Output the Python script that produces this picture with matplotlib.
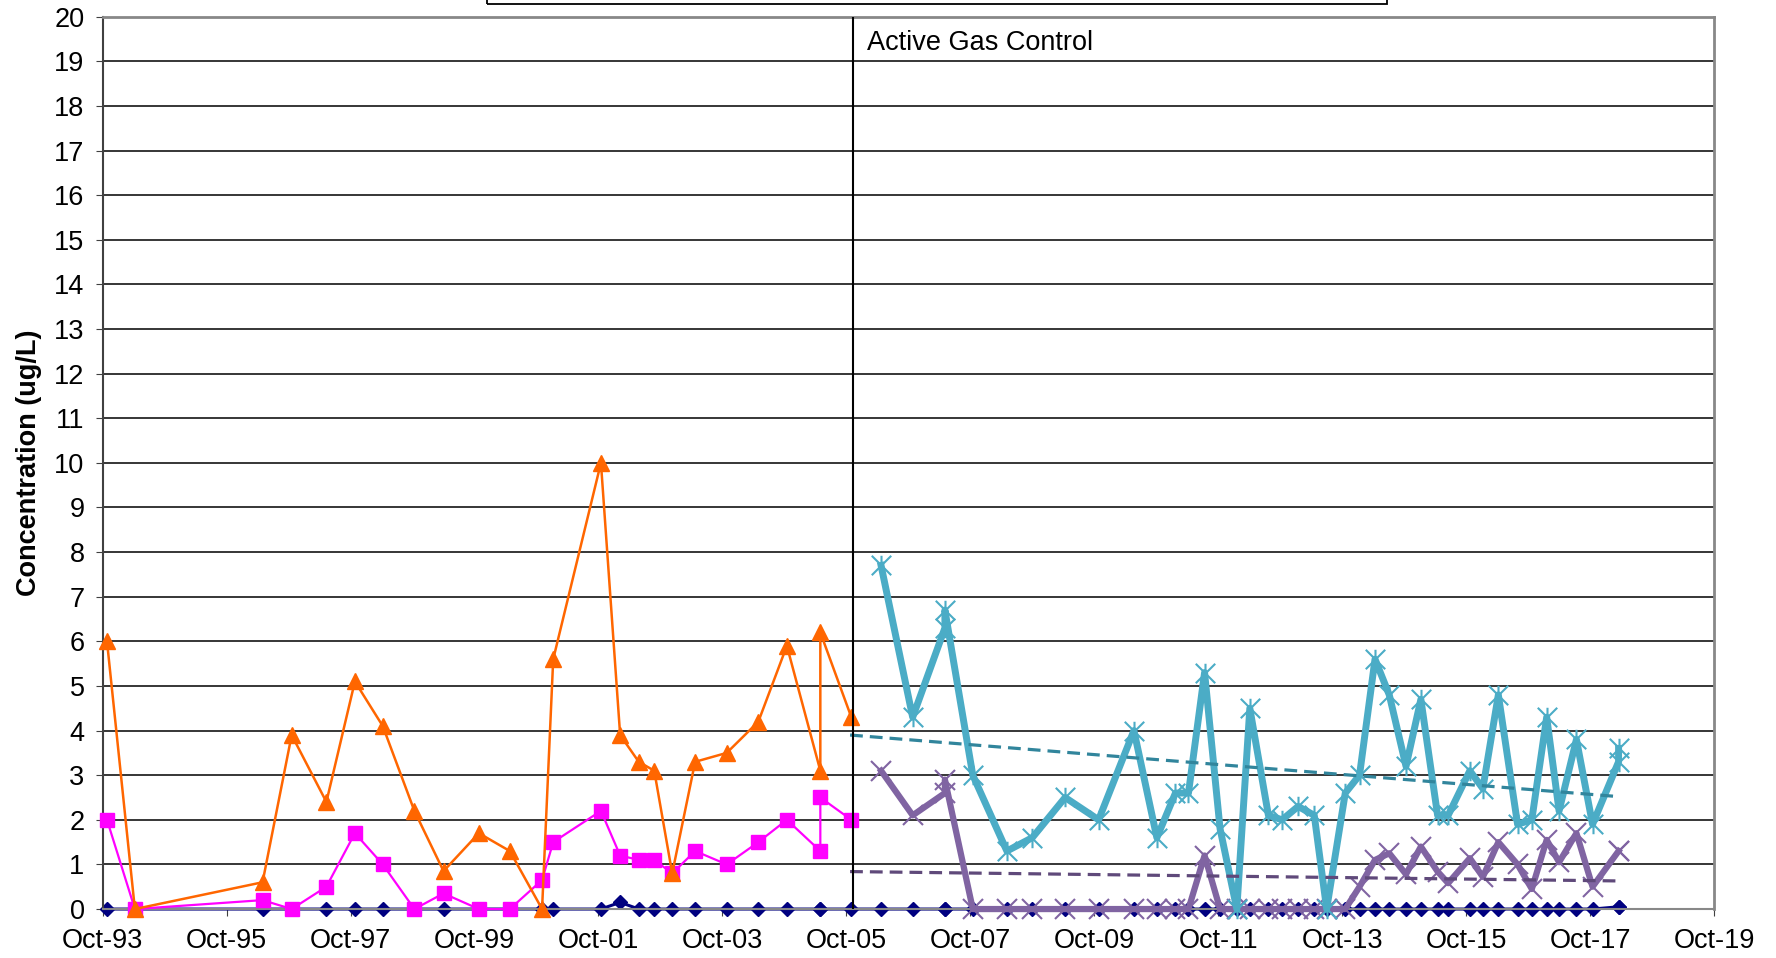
import matplotlib
matplotlib.use('Agg')
import matplotlib.pyplot as plt
from matplotlib.path import Path
from matplotlib.patches import Rectangle

plt.rcParams['font.family'] = ['Liberation Sans', 'DejaVu Sans']

# sampling dates (decimal years) before active gas control
early_dates = [1993.82, 1994.27, 1996.33, 1996.80, 1997.36, 1997.82, 1998.27,
               1998.78, 1999.25, 1999.82, 2000.32, 2000.84, 2001.02, 2001.79,
               2002.10, 2002.40, 2002.65, 2002.94, 2003.31, 2003.82, 2004.33,
               2004.79, 2005.33, 2005.33, 2005.83]
orange_vals = [6.0, 0.0, 0.6, 3.9, 2.4, 5.1, 4.1, 2.2, 0.85, 1.7, 1.3, 0.0, 5.6,
               10.0, 3.9, 3.3, 3.1, 0.8, 3.3, 3.5, 4.2, 5.9, 3.1, 6.2, 4.3]
magenta_vals = [2.0, 0.0, 0.2, 0.0, 0.5, 1.7, 1.0, 0.0, 0.35, 0.0, 0.0, 0.65, 1.5,
                2.2, 1.2, 1.1, 1.1, 0.8, 1.3, 1.0, 1.5, 2.0, 1.3, 2.5, 2.0]

# sampling dates after active gas control
late_dates = [2006.31, 2006.82, 2007.34, 2007.34, 2007.79, 2008.34, 2008.75,
              2009.28, 2009.82, 2010.39, 2010.76, 2011.06, 2011.27, 2011.53,
              2011.78, 2012.05, 2012.26, 2012.56, 2012.78, 2013.04, 2013.30,
              2013.50, 2013.80, 2014.03, 2014.28, 2014.51, 2014.78, 2015.02,
              2015.29, 2015.46, 2015.81, 2016.02, 2016.27, 2016.58, 2016.81,
              2017.05, 2017.25, 2017.53, 2017.79, 2018.21, 2018.21]
cyan_vals = [7.7, 4.3, 6.3, 6.7, 3.0, 1.3, 1.6, 2.5, 2.0, 4.0, 1.6, 2.6, 2.6, 5.3,
             1.8, 0.0, 4.5, 2.1, 2.0, 2.3, 2.1, 0.0, 2.6, 3.0, 5.6, 4.8, 3.2, 4.7,
             2.1, 2.1, 3.1, 2.7, 4.8, 1.9, 2.0, 4.3, 2.2, 3.8, 1.9, 3.3, 3.6]
purple_vals = [3.1, 2.1, 2.6, 2.9, 0.0, 0.0, 0.0, 0.0, 0.0, 0.0, 0.0, 0.0, 0.0, 1.2,
               0.0, 0.0, 0.0, 0.0, 0.0, 0.0, 0.0, 0.0, 0.0, 0.5, 1.1, 1.25, 0.78,
               1.4, 0.84, 0.58, 1.14, 0.72, 1.5, 1.0, 0.45, 1.55, 1.05, 1.7, 0.5,
               1.3, 1.3]

navy_dates = early_dates + late_dates
navy_vals = [0.0, 0.0, 0.0, 0.0, 0.0, 0.0, 0.0, 0.0, 0.0, 0.0, 0.0, 0.0, 0.0,
             0.0, 0.15, 0.0, 0.0, 0.0, 0.0, 0.0, 0.0, 0.0, 0.0, 0.0, 0.0,
             0.0, 0.0, 0.0, 0.0, 0.0, 0.0, 0.0, 0.0, 0.0, 0.0, 0.0, 0.0, 0.0, 0.0,
             0.0, 0.0, 0.0, 0.0, 0.0, 0.0, 0.0, 0.0, 0.0, 0.0, 0.0, 0.0, 0.0, 0.0,
             0.0, 0.0, 0.0, 0.0, 0.0, 0.0, 0.0, 0.0, 0.0, 0.0, 0.0, 0.05, 0.05]

# linear trend end points
trend_dates = [2005.81, 2018.21]
cyan_trend = [3.9, 2.52]
purple_trend = [0.84, 0.63]

gas_control_date = 2005.85

tick_labels = ['Oct-93', 'Oct-95', 'Oct-97', 'Oct-99', 'Oct-01', 'Oct-03', 'Oct-05',
               'Oct-07', 'Oct-09', 'Oct-11', 'Oct-13', 'Oct-15', 'Oct-17', 'Oct-19']
tick_pos = [1993.75 + 2 * i for i in range(len(tick_labels))]

# asterisk marker: X with a vertical bar
star = Path([(0, -1), (0, 1), (-1, -1), (1, 1), (-1, 1), (1, -1)],
            [Path.MOVETO, Path.LINETO] * 3)

FS = 19.5

fig = plt.figure(figsize=(17.76, 9.58), dpi=100)
ax = fig.add_axes([0.0578, 0.0511, 0.9073, 0.9315])

ax.set_xlim(tick_pos[0], tick_pos[-1])
ax.set_ylim(0, 20)
ax.set_yticks(range(0, 21))
ax.set_xticks(tick_pos)
ax.set_xticklabels(tick_labels)
ax.tick_params(axis='both', labelsize=FS, direction='out', length=5, color='#404040')
ax.tick_params(axis='y', pad=8)
ax.tick_params(axis='x', pad=9)
for y in range(1, 21):
    ax.axhline(y, color='black', lw=1.1, zorder=0)
for side in ['top', 'right']:
    ax.spines[side].set_color('#888888')
    ax.spines[side].set_linewidth(2)
ax.spines['left'].set_color('#404040')
ax.spines['left'].set_linewidth(1.5)
ax.spines['bottom'].set_color('#888888')
ax.spines['bottom'].set_linewidth(1.5)

ax.set_ylabel('Concentration (ug/L)', fontsize=FS, fontweight='bold', labelpad=9)

ax.plot(navy_dates, navy_vals, color='#000080', lw=2.2, marker='D', ms=7.5,
        zorder=2, clip_on=False)
ax.plot(early_dates, magenta_vals, color='#FF00FF', lw=1.6, marker='s', ms=10,
        zorder=3, clip_on=False)
ax.plot(early_dates, orange_vals, color='#FF6600', lw=1.8, marker='^', ms=11,
        zorder=4, clip_on=False)
ax.plot(late_dates, purple_vals, color='#8064A2', lw=4.5, marker='x', ms=14, mew=1.5,
        zorder=5, clip_on=False)
ax.plot(late_dates, cyan_vals, color='#4BACC6', lw=5, marker=star, ms=14, mew=1.5,
        zorder=6, clip_on=False)
ax.plot(trend_dates, cyan_trend, color='#31859C', lw=2.3, ls=(0, (4, 2.2)), zorder=7)
ax.plot(trend_dates, purple_trend, color='#5F497A', lw=2.3, ls=(0, (4, 2.2)), zorder=7)

ax.axvline(gas_control_date, color='black', lw=1.5, zorder=8)
ax.text(gas_control_date + 0.23, 19.4, 'Active Gas Control', fontsize=FS,
        va='center', ha='left')

# legend frame sitting above the plot
fig.add_artist(Rectangle((0.2742, 0.9958), 0.507, 0.05, transform=fig.transFigure,
                         fill=False, edgecolor='black', lw=1.3, clip_on=False))

fig.savefig('out.png', dpi=100)
